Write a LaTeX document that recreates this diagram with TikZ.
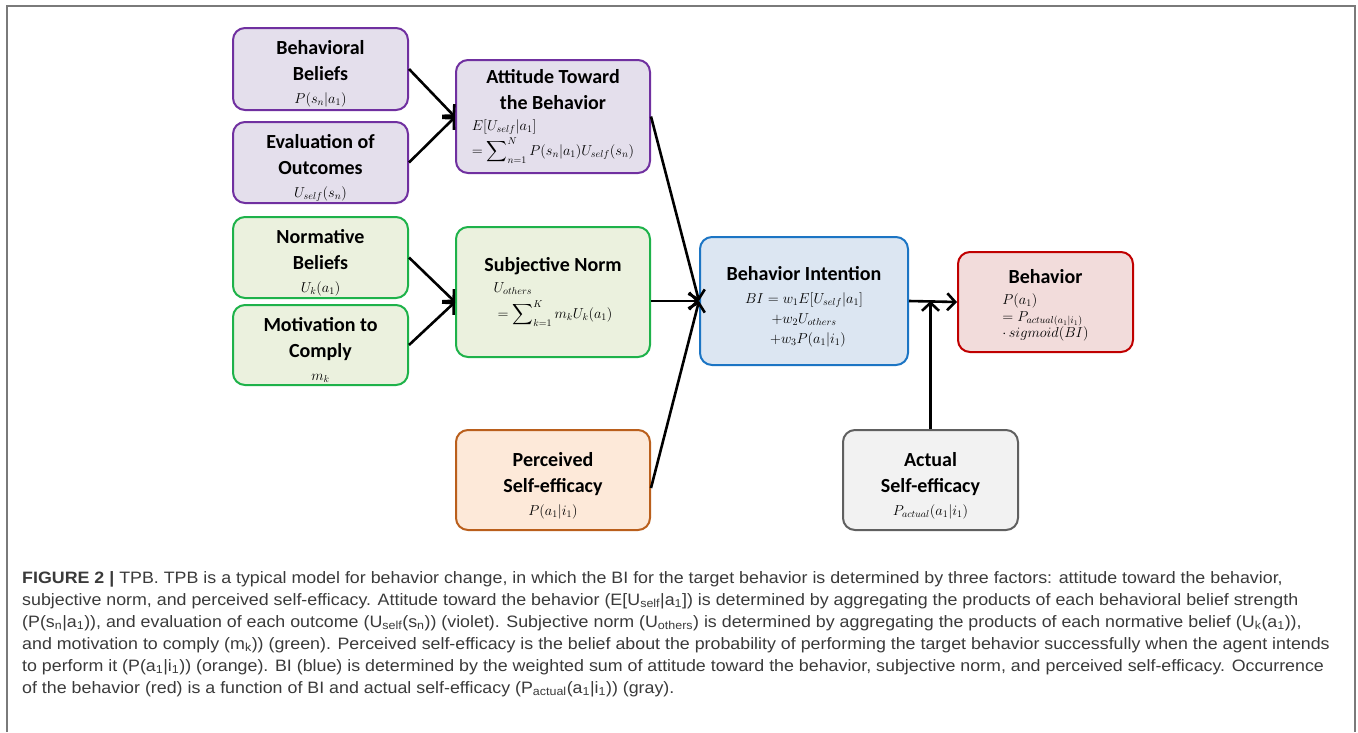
\documentclass[tikz,border=0pt]{standalone}
\usepackage{exscale}
\usepackage{fontspec}
\setmainfont{Carlito}
\newfontfamily\capfont[FakeStretch=1.08]{Liberation Sans}
\usetikzlibrary{arrows.meta}
\definecolor{vio}{HTML}{7030A0}\definecolor{viof}{HTML}{E4DFEC}
\definecolor{grn}{HTML}{1EB24A}\definecolor{grnf}{HTML}{EBF1DE}
\definecolor{org}{HTML}{BA5F1C}\definecolor{orgf}{HTML}{FDE9D9}
\definecolor{blu}{HTML}{1C75C4}\definecolor{bluf}{HTML}{DCE6F2}
\definecolor{redb}{HTML}{C00000}\definecolor{redf}{HTML}{F2DCDB}
\definecolor{gry}{HTML}{606060}\definecolor{gryf}{HTML}{F2F2F2}
\definecolor{capc}{HTML}{3A3A3A}
\definecolor{framec}{HTML}{7A7A7A}
\newcommand\mathsz{\fontsize{14}{18}\selectfont}
\newcommand\tpad[1]{\rule{0pt}{#1}}
\newcommand\bigsum{\mathop{\vcenter{\hbox{\fontsize{15}{15}\selectfont$\displaystyle\sum$}}}\nolimits}
\tikzset{
  box/.style={rounded corners=12pt, line width=2pt, align=center, inner sep=0pt,
    font=\bfseries\fontsize{20}{26}\selectfont},
  vbox/.style={box, draw=vio, fill=viof},
  gbox/.style={box, draw=grn, fill=grnf},
  obox/.style={box, draw=org, fill=orgf},
  bbox/.style={box, draw=blu, fill=bluf},
  rbox/.style={box, draw=redb, fill=redf},
  xbox/.style={box, draw=gry, fill=gryf},
  arr/.style={line width=2.6pt, -{Straight Barb[length=8pt,width=17pt]}},
  capline/.style={anchor=base west, inner sep=0pt, text=capc,
    font=\capfont\fontsize{16.5}{22}\selectfont},
}
\begin{document}
\begin{tikzpicture}[x=1pt,y=-1pt]
\useasboundingbox (0,0) rectangle (1358,732);
\draw[framec, line width=1.5pt] (7,732) -- (7,6) -- (1355,6) -- (1355,732);

\node[vbox, minimum width=175pt, minimum height=82pt] (bb) at (320.5,69)
  {\tpad{24pt}Behavioral\\Beliefs\\[-3pt]{\mathsz$P(s_n|a_1)$}};
\node[vbox, minimum width=175pt, minimum height=81pt] (eo) at (320.5,162.5)
  {\tpad{25pt}Evaluation of\\Outcomes\\[-3pt]{\mathsz$U_{self}(s_n)$}};
\node[vbox, minimum width=194pt, minimum height=113pt] (att) at (553,116.5)
  {Attitude Toward\\the Behavior\\[-5pt]{\mathsz\begin{tabular}[t]{@{}l@{}}$E[U_{self}|a_1]$\\[2pt]
   $=\bigsum_{n=1}^{N}P(s_n|a_1)U_{self}(s_n)$\end{tabular}}};

\node[gbox, minimum width=175pt, minimum height=81pt] (nb) at (320.5,257.5)
  {\tpad{24pt}Normative\\Beliefs\\[-3pt]{\mathsz$U_k(a_1)$}};
\node[gbox, minimum width=175pt, minimum height=80pt] (mc) at (320.5,345)
  {\tpad{24pt}Motivation to\\Comply\\[-3pt]{\mathsz$m_k$}};
\node[gbox, minimum width=194pt, minimum height=130pt] (sn) at (553,292)
  {Subjective Norm\\[-5pt]{\mathsz\begin{tabular}[t]{@{}l@{}}$U_{others}$\\[3pt]
   $\;=\bigsum_{k=1}^{K}m_kU_k(a_1)$\end{tabular}}};

\node[obox, minimum width=194pt, minimum height=100pt] (per) at (553,480)
  {\tpad{25pt}Perceived\\Self-efficacy\\[-3pt]{\mathsz$P(a_1|i_1)$}};

\node[bbox, minimum width=208pt, minimum height=128pt] (bi) at (804,301)
  {\tpad{25pt}Behavior Intention\\[-3pt]{\mathsz$BI=w_1E[U_{self}|a_1]$}\\[-6pt]
   {\mathsz$+w_2U_{others}$}\\[-6pt]{\mathsz$\;\;+w_3P(a_1|i_1)$}};

\node[rbox, minimum width=175pt, minimum height=100pt] (beh) at (1045.5,302)
  {\tpad{22pt}Behavior\\[-5pt]{\mathsz\begin{tabular}[t]{@{}l@{}}$P(a_1)$\\[-1pt]
   $=P_{actual(a_1|i_1)}$\\[-2pt]$\cdot\,sigmoid(BI)$\end{tabular}}};

\node[xbox, minimum width=175pt, minimum height=100pt] (act) at (930.5,480)
  {\tpad{25pt}Actual\\Self-efficacy\\[-3pt]{\mathsz$P_{actual}(a_1|i_1)$}};

\coordinate (attin) at (455,117);
\coordinate (snin) at (455,302);
\draw[arr] (bb.east) -- (attin);
\draw[arr] (eo.east) -- (attin);
\draw[arr] (nb.east) -- (snin);
\draw[arr] (mc.east) -- (snin);
\draw[arr] (att.east) -- (bi.west);
\draw[arr] (sn.east |- bi.west) -- (bi.west);
\draw[arr] (per.east) ++(0,8) -- (bi.west);
\draw[arr] (bi.east) -- (beh.west);
\coordinate (junc) at (act.north |- bi.east);
\draw[arr] (act.north) -- (junc);

\node[capline] (c1) at (22,583) {\textbf{FIGURE 2 |} TPB. TPB is a typical model for behavior change, in which the BI for the target behavior is determined by three factors: attitude toward the behavior,};
\node[capline] (c2) at (22,605) {subjective norm, and perceived self-efficacy. Attitude toward the behavior (E[U\textsubscript{self}|a\textsubscript{1}]) is determined by aggregating the products of each behavioral belief strength};
\node[capline] (c3) at (22,627) {(P(s\textsubscript{n}|a\textsubscript{1})), and evaluation of each outcome (U\textsubscript{self}(s\textsubscript{n})) (violet). Subjective norm (U\textsubscript{others}) is determined by aggregating the products of each normative belief (U\textsubscript{k}(a\textsubscript{1})),};
\node[capline] (c4) at (22,649) {and motivation to comply (m\textsubscript{k})) (green). Perceived self-efficacy is the belief about the probability of performing the target behavior successfully when the agent intends};
\node[capline] (c5) at (22,671) {to perform it (P(a\textsubscript{1}|i\textsubscript{1})) (orange). BI (blue) is determined by the weighted sum of attitude toward the behavior, subjective norm, and perceived self-efficacy. Occurrence};
\node[capline] (c6) at (22,693) {of the behavior (red) is a function of BI and actual self-efficacy (P\textsubscript{actual}(a\textsubscript{1}|i\textsubscript{1})) (gray).};
\end{tikzpicture}
\end{document}
